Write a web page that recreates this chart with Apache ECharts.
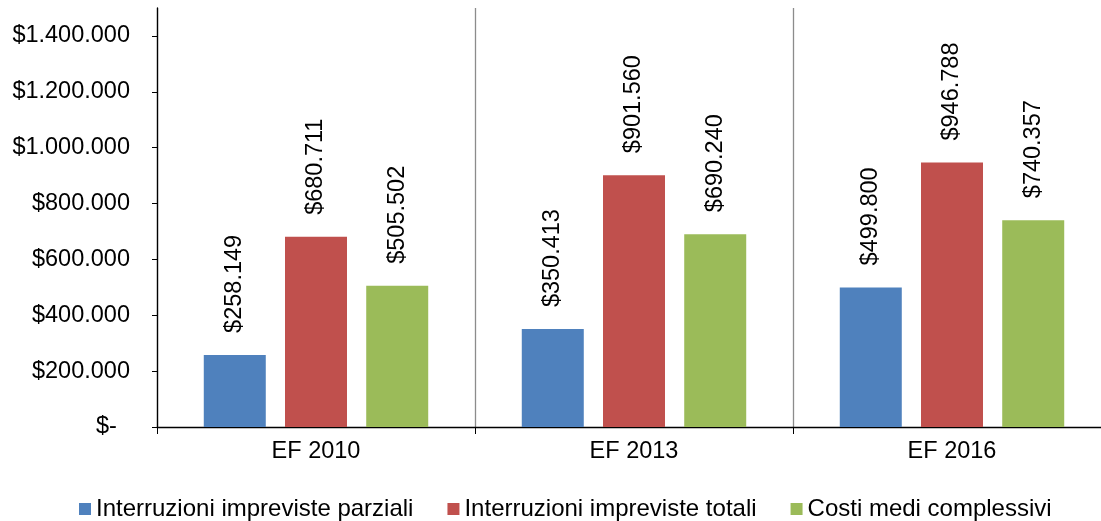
<!DOCTYPE html>
<html>
<head>
<meta charset="utf-8">
<script src="https://cdn.jsdelivr.net/npm/echarts@6/dist/echarts.min.js"></script>
<style>
  html, body { margin: 0; padding: 0; background: #fff; overflow: hidden; }
  /* il grafico originale prosegue oltre il bordo destro */
  #chart { width: 1111px; height: 521px; }
</style>
</head>
<body>
<div id="chart"></div>
<script>
/* ---------- dati ---------- */
const categories = ['EF 2010', 'EF 2013', 'EF 2016'];
const seriesNames = [
  'Interruzioni impreviste parziali',
  'Interruzioni impreviste totali',
  'Costi medi complessivi',
];
const parziali = [258149, 350413, 499800];
const totali = [680711, 901560, 946788];
const costiMedi = [505502, 690240, 740357];
const yTicks = [0, 200000, 400000, 600000, 800000, 1000000, 1200000, 1400000];

const colors = ['#4F81BD', '#C0504D', '#9BBB59'];
const FONT = '"Liberation Sans", Arial, sans-serif';

// formato italiano: $1.400.000
function money(v) {
  if (v === 0) return '$-  ';
  return '$' + String(Math.round(v)).replace(/\B(?=(\d{3})+(?!\d))/g, '.');
}

function makeSeries(name, data, color) {
  return {
    name: name,
    type: 'bar',
    data: data,
    barWidth: 62,
    barGap: '31%',
    itemStyle: { color: color },
    label: {
      show: true,
      position: 'top',
      rotate: 90,
      align: 'left',
      verticalAlign: 'middle',
      distance: 22,
      color: '#000',
      fontFamily: FONT,
      fontSize: 23.5,
      formatter: (p) => money(p.value),
    },
  };
}

const chart = echarts.init(document.getElementById('chart'));
chart.setOption({
  animation: false,
  textStyle: { fontFamily: FONT },
  grid: { left: 157, top: 8, right: 0, bottom: 94, containLabel: false },
  legend: {
    data: seriesNames,
    left: 74,
    top: 492,
    icon: 'rect',
    itemWidth: 12,
    itemHeight: 12,
    itemGap: 34,
    textStyle: { fontFamily: FONT, fontSize: 24, color: '#000' },
  },
  xAxis: {
    type: 'category',
    data: categories,
    axisLine: { lineStyle: { color: '#000', width: 1.3 } },
    axisTick: { show: true, length: 7, lineStyle: { color: '#000' } },
    axisLabel: { color: '#000', fontFamily: FONT, fontSize: 23.5, margin: 13 },
    splitLine: { show: true, lineStyle: { color: '#8c8c8c', width: 1.3 } },
  },
  yAxis: {
    type: 'value',
    min: 0,
    max: 1500000,
    interval: 200000,
    axisLine: { show: true, lineStyle: { color: '#000', width: 1.3 } },
    axisTick: { show: true, length: 5, customValues: yTicks, lineStyle: { color: '#000' } },
    axisLabel: {
      customValues: yTicks,
      color: '#000',
      fontFamily: FONT,
      fontSize: 23.5,
      margin: 27,
      formatter: (v) => money(v),
    },
    splitLine: { show: false },
  },
  series: [
    makeSeries(seriesNames[0], parziali, colors[0]),
    makeSeries(seriesNames[1], totali, colors[1]),
    makeSeries(seriesNames[2], costiMedi, colors[2]),
  ],
});
</script>
</body>
</html>
